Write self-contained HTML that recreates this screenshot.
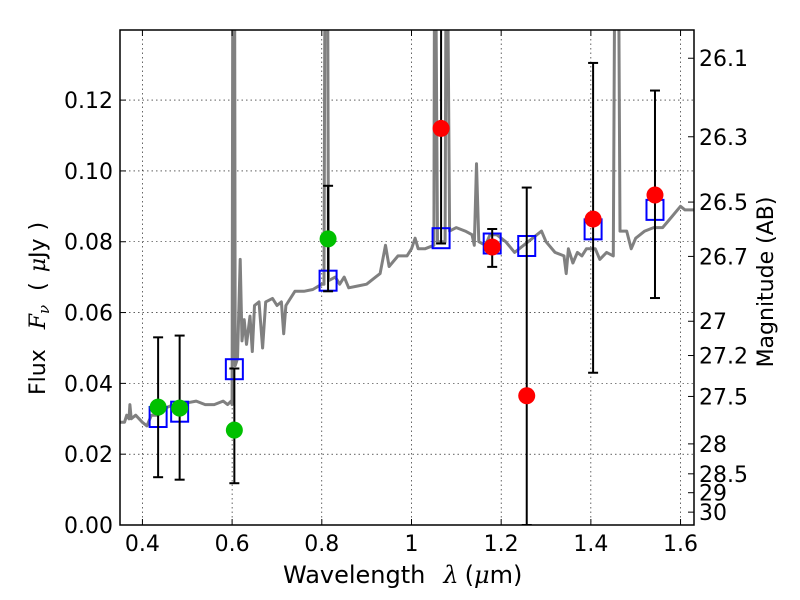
<!DOCTYPE html>
<html><head><meta charset="utf-8"><style>
body{margin:0;background:#fff;}
svg{display:block;font-family:"DejaVu Sans","Liberation Sans",sans-serif;}
</style></head><body>
<svg id="chart" width="800" height="600" viewBox="0 0 800 600" xmlns="http://www.w3.org/2000/svg">
<rect width="800" height="600" fill="#fff"/>
<defs><clipPath id="plotclip"><rect x="120" y="30" width="574" height="495"/></clipPath></defs>
<g id="grid"></g>
<g id="spec" clip-path="url(#plotclip)"></g>
<g id="marks" clip-path="url(#plotclip)"></g>
<rect x="120" y="30" width="574" height="495" fill="none" stroke="#000" stroke-width="1.5"/>
<g id="axes"></g>
<text x="283" y="583" font-size="24" text-anchor="start">Wavelength<tspan dx="18" font-style="italic" font-family="DejaVu Serif,serif">λ</tspan><tspan dx="6">(</tspan><tspan font-style="italic" font-family="DejaVu Serif,serif">μ</tspan>m)</text>
<text transform="translate(45,395) rotate(-90)" font-size="22" text-anchor="start">Flux<tspan dx="20" font-style="italic" font-family="DejaVu Serif,serif">F</tspan><tspan font-style="italic" font-size="15" dy="4" font-family="DejaVu Serif,serif">ν</tspan><tspan dy="-4" dx="14">(</tspan><tspan dx="10" font-style="italic" font-family="DejaVu Serif,serif">μ</tspan>Jy<tspan dx="8">)</tspan></text>
<text transform="translate(773,282) rotate(-90)" font-size="22" text-anchor="middle">Magnitude (AB)</text>
</svg>
<script>
const xTicks=[0.4,0.6,0.8,1.0,1.2,1.4,1.6];
const xTickLabels=["0.4","0.6","0.8","1","1.2","1.4","1.6"];
const yTicks=[0,0.02,0.04,0.06,0.08,0.10,0.12];
const yTickLabels=["0.00","0.02","0.04","0.06","0.08","0.10","0.12"];
const magTicks=[26.1,26.3,26.5,26.7,27,27.2,27.5,28,28.5,29,30];
const magTickLabels=["26.1","26.3","26.5","26.7","27","27.2","27.5","28","28.5","29","30"];
const specWave=[0.35,0.36,0.365,0.37,0.372,0.375,0.385,0.40,0.41,0.42,0.435,0.45,0.47,0.50,0.52,0.54,0.56,0.58,0.59,0.598,0.600,0.602,0.605,0.607,0.612,0.618,0.622,0.627,0.632,0.64,0.645,0.65,0.66,0.668,0.675,0.69,0.70,0.71,0.715,0.72,0.74,0.76,0.78,0.80,0.805,0.808,0.812,0.815,0.83,0.84,0.85,0.86,0.88,0.90,0.92,0.93,0.942,0.95,0.97,0.99,1.0,1.008,1.015,1.03,1.05,1.052,1.058,1.075,1.078,1.085,1.10,1.12,1.135,1.14,1.145,1.15,1.165,1.175,1.19,1.21,1.23,1.25,1.27,1.29,1.30,1.32,1.34,1.345,1.35,1.36,1.37,1.38,1.39,1.41,1.42,1.435,1.45,1.455,1.46,1.465,1.48,1.49,1.50,1.52,1.54,1.56,1.58,1.60,1.61,1.63];
const specFlux=[0.029,0.029,0.031,0.030,0.034,0.030,0.031,0.029,0.028,0.031,0.031,0.033,0.034,0.0345,0.035,0.034,0.034,0.035,0.034,0.035,0.034,0.2,0.2,0.045,0.047,0.075,0.052,0.058,0.051,0.059,0.049,0.062,0.063,0.050,0.063,0.064,0.062,0.063,0.054,0.062,0.066,0.066,0.0665,0.068,0.068,0.2,0.2,0.069,0.070,0.068,0.070,0.067,0.0675,0.068,0.070,0.071,0.079,0.073,0.076,0.076,0.078,0.081,0.078,0.078,0.079,0.2,0.080,0.080,0.2,0.083,0.084,0.083,0.082,0.079,0.102,0.080,0.079,0.082,0.082,0.080,0.077,0.079,0.081,0.083,0.080,0.077,0.076,0.071,0.078,0.074,0.077,0.076,0.078,0.078,0.075,0.077,0.076,0.2,0.2,0.083,0.083,0.078,0.081,0.083,0.084,0.084,0.087,0.090,0.089,0.089];
const greenWave=[0.435,0.483,0.605,0.814];
const greenFlux=[0.0333,0.033,0.0268,0.0808];
const greenLo=[0.0135,0.0128,0.0118,0.066];
const greenHi=[0.053,0.0535,0.0442,0.0958];
const redWave=[1.066,1.18,1.257,1.405,1.543];
const redFlux=[0.112,0.0785,0.0365,0.0864,0.0932];
const redLo=[0.0795,0.0729,0,0.043,0.0641];
const redHi=[0.2,0.0836,0.0953,0.1305,0.1227];
const modelWave=[0.435,0.483,0.605,0.814,1.066,1.18,1.257,1.405,1.543];
const modelFlux=[0.0305,0.032,0.044,0.069,0.081,0.0795,0.0788,0.0835,0.089];

const NS="http://www.w3.org/2000/svg";
const X0=120,X1=694,Y0=525,Y1=30,xmin=0.35,xmax=1.63,ymin=0,ymax=0.1398;
function sx(v){return X0+(v-xmin)/(xmax-xmin)*(X1-X0);}
function sy(v){return Y0-(v-ymin)/(ymax-ymin)*(Y0-Y1);}
function magToFlux(m){return Math.pow(10,(23.9-m)/2.5);}
function mk(tag,attrs,parent){const e=document.createElementNS(NS,tag);for(const k in attrs)e.setAttribute(k,attrs[k]);parent.appendChild(e);return e;}
const grid=document.getElementById('grid'),axes=document.getElementById('axes'),spec=document.getElementById('spec'),marks=document.getElementById('marks');
xTicks.forEach((t,i)=>{const x=sx(t);
 const g=mk('line',{x1:x,x2:x,y1:Y1,y2:Y0,stroke:'#000','stroke-width':0.6,'stroke-dasharray':'1.5,3'},grid);
 
 
 mk('line',{x1:x,x2:x,y1:Y0,y2:Y0-6,stroke:'#000'},axes);
 mk('line',{x1:x,x2:x,y1:Y1,y2:Y1+6,stroke:'#000'},axes);
 const tx=mk('text',{x:x,y:Y0+26,'font-size':22,'text-anchor':'middle'},axes);tx.textContent=xTickLabels[i];
 
 
});
yTicks.forEach((t,i)=>{const y=sy(t);
 const g=mk('line',{x1:X0,x2:X1,y1:y,y2:y,stroke:'#000','stroke-width':0.6,'stroke-dasharray':'1.5,3'},grid);
 
 
 mk('line',{x1:X0,x2:X0+6,y1:y,y2:y,stroke:'#000'},axes);
 const tx=mk('text',{x:X0-7,y:y+8,'font-size':22,'text-anchor':'end'},axes);tx.textContent=yTickLabels[i];
 
 
});
magTicks.forEach((m,i)=>{const y=sy(magToFlux(m));
 mk('line',{x1:X1,x2:X1-6,y1:y,y2:y,stroke:'#000'},axes);
 const tx=mk('text',{x:X1+5,y:y+8,'font-size':22,'text-anchor':'start'},axes);tx.textContent=magTickLabels[i];
 
 
});
let d='';specWave.forEach((w,i)=>{d+=(i?'L':'M')+sx(w).toFixed(1)+','+sy(specFlux[i]).toFixed(1);});
const sp=mk('path',{d:d,fill:'none',stroke:'#808080','stroke-width':3,'stroke-linejoin':'round'},spec);


modelWave.forEach((w,i)=>{const x=sx(w),y=sy(modelFlux[i]);
 const r=mk('rect',{x:x-8.5,y:y-10,width:17,height:20,fill:'none',stroke:'#0000ff','stroke-width':2},marks);
 
 
});
function errbar(w,lo,hi,name){const x=sx(w);
 const l=mk('line',{x1:x,x2:x,y1:sy(lo),y2:sy(hi),stroke:'#000','stroke-width':2},marks);
 
 
 [lo,hi].forEach(v=>mk('line',{x1:x-5,x2:x+5,y1:sy(v),y2:sy(v),stroke:'#000','stroke-width':2},marks));
}
greenWave.forEach((w,i)=>errbar(w,greenLo[i],greenHi[i],'green-error-bar'));
redWave.forEach((w,i)=>errbar(w,redLo[i],redHi[i],'red-error-bar'));
greenWave.forEach((w,i)=>{const c=mk('circle',{cx:sx(w),cy:sy(greenFlux[i]),r:8.5,fill:'#00c000'},marks);
 
 
});
redWave.forEach((w,i)=>{const c=mk('circle',{cx:sx(w),cy:sy(redFlux[i]),r:8.5,fill:'#ff0000'},marks);
 
 
});
</script>
</body></html>
